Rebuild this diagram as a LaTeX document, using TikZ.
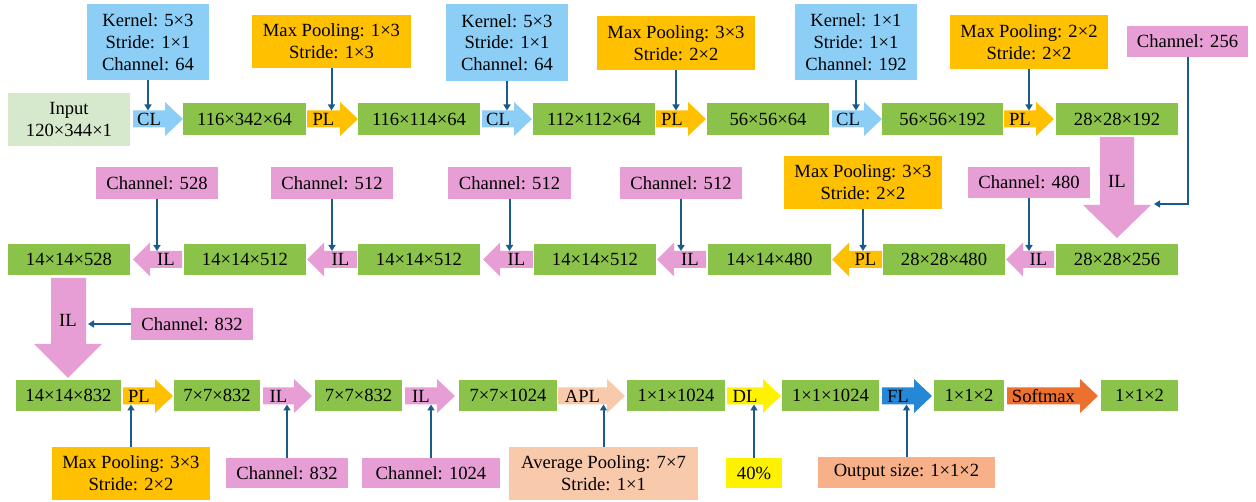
\documentclass[tikz,border=0pt]{standalone}
\usepackage{fontspec}
\setmainfont{Liberation Serif}
\usetikzlibrary{arrows.meta}
\definecolor{cg}{RGB}{139,195,74}
\definecolor{cin}{RGB}{214,233,204}
\definecolor{cbl}{RGB}{140,206,246}
\definecolor{cor}{RGB}{255,192,0}
\definecolor{cpk}{RGB}{231,158,212}
\definecolor{cpe}{RGB}{249,201,172}
\definecolor{cou}{RGB}{248,176,136}
\definecolor{cye}{RGB}{255,242,0}
\definecolor{cfl}{RGB}{36,136,214}
\definecolor{csm}{RGB}{236,112,46}
\definecolor{cln}{RGB}{27,91,140}
\newcommand\myfs{\fontsize{18.6}{21.7}\selectfont}
\newcommand\BX[7]{\node[#1,minimum width={#5-#3},minimum height={#6-#4}] (#2) at ({(#3+#5)/2},{(#4+#6)/2}) {#7};}
\newcommand\RA[6]{%
  \fill[#5] (#2,#4-8.5) -- (#3-18,#4-8.5) -- (#3-18,#4-17) -- (#3,#4) -- (#3-18,#4+17) -- (#3-18,#4+8.5) -- (#2,#4+8.5) -- cycle;
  \node[lbl] (#1) at ({(#2+#3-18)/2},#4) {#6};}
\newcommand\LA[6]{%
  \fill[#5] (#3,#4-8.5) -- (#2+17,#4-8.5) -- (#2+17,#4-17) -- (#2,#4) -- (#2+17,#4+17) -- (#2+17,#4+8.5) -- (#3,#4+8.5) -- cycle;
  \node[lbl] (#1) at ({(#2+17+#3)/2},#4) {#6};}
\begin{document}
\begin{tikzpicture}[x=1pt,y=-1pt,
  bx/.style={inner sep=0pt,outer sep=0pt,align=center,font=\myfs,text=black},
  gbox/.style={bx,fill=cg},
  inbox/.style={bx,fill=cin},
  blbox/.style={bx,fill=cbl},
  orbox/.style={bx,fill=cor},
  pkbox/.style={bx,fill=cpk},
  pebox/.style={bx,fill=cpe},
  oubox/.style={bx,fill=cou},
  yebox/.style={bx,fill=cye},
  lbl/.style={inner sep=0pt,outer sep=0pt,minimum height=17pt,font=\myfs,text=black},
  conn/.style={draw=cln,line width=2pt,-{Triangle[length=6pt,width=7pt]}}]
\useasboundingbox (0,0) rectangle (1256,502);
% ---- row 1
\BX{inbox}{inp}{8}{93}{130}{146}{Input\\120×344×1}
\RA{cl1}{133}{183}{119}{cbl}{CL}
\BX{gbox}{r1a}{183}{103}{306}{135}{116×342×64}
\RA{pl1}{307}{358}{119}{cor}{PL}
\BX{gbox}{r1b}{358}{103}{480}{135}{116×114×64}
\RA{cl2}{482}{532}{119}{cbl}{CL}
\BX{gbox}{r1c}{533}{103}{655}{135}{112×112×64}
\RA{pl2}{656}{706}{119}{cor}{PL}
\BX{gbox}{r1d}{707}{103}{829}{135}{56×56×64}
\RA{cl3}{832}{882}{119}{cbl}{CL}
\BX{gbox}{r1e}{882}{103}{1003}{135}{56×56×192}
\RA{pl3}{1004}{1054}{119}{cor}{PL}
\BX{gbox}{r1f}{1056}{103}{1178}{135}{28×28×192}
% ---- row 2
\BX{gbox}{r2a}{8}{244}{130}{275}{14×14×528}
\LA{il1}{133}{182}{259.5}{cpk}{IL}
\BX{gbox}{r2b}{184}{244}{306}{275}{14×14×512}
\LA{il2}{307}{357}{259.5}{cpk}{IL}
\BX{gbox}{r2c}{358}{244}{480}{275}{14×14×512}
\LA{il3}{483}{533}{259.5}{cpk}{IL}
\BX{gbox}{r2d}{534}{244}{656}{275}{14×14×512}
\LA{il4}{657}{706}{259.5}{cpk}{IL}
\BX{gbox}{r2e}{708}{244}{831}{275}{14×14×480}
\LA{pl4}{832}{882}{259.5}{cor}{PL}
\BX{gbox}{r2f}{883}{244}{1005}{275}{28×28×480}
\LA{il5}{1006}{1054}{259.5}{cpk}{IL}
\BX{gbox}{r2g}{1056}{244}{1178}{275}{28×28×256}
% ---- row 3
\BX{gbox}{r3a}{16}{380}{121}{411}{14×14×832}
\RA{pl5}{123}{173}{396}{cor}{PL}
\BX{gbox}{r3b}{174}{380}{260}{411}{7×7×832}
\RA{il6}{263}{312}{396}{cpk}{IL}
\BX{gbox}{r3c}{315}{380}{402}{411}{7×7×832}
\RA{il7}{405}{455}{396}{cpk}{IL}
\BX{gbox}{r3d}{459}{380}{557}{411}{7×7×1024}
\RA{apl}{558}{625}{396}{cpe}{APL}
\BX{gbox}{r3e}{627}{380}{725}{411}{1×1×1024}
\RA{dl}{727}{781}{396}{cye}{DL}
\BX{gbox}{r3f}{782}{380}{879}{411}{1×1×1024}
\RA{fl}{882}{932}{396}{cfl}{FL}
\BX{gbox}{r3g}{934}{380}{1004}{411}{1×1×2}
\RA{sm}{1007}{1098}{396}{csm}{Softmax}
\BX{gbox}{r3h}{1101}{380}{1178}{411}{1×1×2}
% ---- big arrows
\fill[cpk] (1100,137) -- (1134,137) -- (1134,205) -- (1151,205) -- (1117,238) -- (1083,205) -- (1100,205) -- cycle;
\node[lbl] (ilA) at (1117,181) {IL};
\coordinate (ilAr) at (1154,204);
\fill[cpk] (51,278) -- (86,278) -- (86,344) -- (102,344) -- (68,378) -- (34,344) -- (51,344) -- cycle;
\node[lbl] (ilB) at (68,320) {IL};
\coordinate (ilBr) at (88,324);
% ---- callouts row 1
\BX{blbox}{k1}{87}{4}{209}{80}{Kernel: 5×3\\Stride: 1×1\\Channel: 64}
\BX{orbox}{m1}{252}{15}{411}{68}{Max Pooling: 1×3\\Stride: 1×3}
\BX{blbox}{k2}{446}{4}{568}{81}{Kernel: 5×3\\Stride: 1×1\\Channel: 64}
\BX{orbox}{m2}{597}{16}{755}{70}{Max Pooling: 3×3\\Stride: 2×2}
\BX{blbox}{k3}{795}{4}{917}{80}{Kernel: 1×1\\Stride: 1×1\\Channel: 192}
\BX{orbox}{m3}{950}{15}{1108}{69}{Max Pooling: 2×2\\Stride: 2×2}
\BX{pkbox}{c256}{1127}{26}{1248}{57}{Channel: 256}
% ---- callouts row 2
\BX{pkbox}{c528}{96}{167}{218}{199}{Channel: 528}
\BX{pkbox}{c512a}{271}{167}{393}{199}{Channel: 512}
\BX{pkbox}{c512b}{448}{167}{571}{199}{Channel: 512}
\BX{pkbox}{c512c}{620}{167}{742}{199}{Channel: 512}
\BX{orbox}{m4}{784}{156}{942}{209}{Max Pooling: 3×3\\Stride: 2×2}
\BX{pkbox}{c480}{968}{167}{1090}{198}{Channel: 480}
% ---- callouts row 3
\BX{pkbox}{c832a}{131}{308}{253}{340}{Channel: 832}
\BX{orbox}{m5}{52}{447}{210}{500}{Max Pooling: 3×3\\Stride: 2×2}
\BX{pkbox}{c832b}{226}{458}{348}{488}{Channel: 832}
\BX{pkbox}{c1024}{362}{458}{500}{488}{Channel: 1024}
\BX{pebox}{avg}{509}{447}{698}{500}{Average Pooling: 7×7\\Stride: 1×1}
\BX{yebox}{p40}{726}{458}{782}{488}{40\%}
\BX{oubox}{outs}{818}{457}{995}{488}{Output size: 1×1×2}
% ---- connectors
\foreach \a/\b in {k1/cl1,m1/pl1,k2/cl2,m2/pl2,k3/cl3,m3/pl3,c528/il1,c512a/il2,c512b/il3,c512c/il4,m4/pl4,c480/il5}
  \draw[conn] (\a.south) -- (\a.south |- \b.north);
\foreach \a/\b in {m5/pl5,c832b/il6,c1024/il7,avg/apl,p40/dl,outs/fl}
  \draw[conn] (\a.north) -- (\a.north |- \b.south);
\draw[conn] (c256.south) |- (ilAr);
\draw[conn] (c832a.west) -- (ilBr);
\end{tikzpicture}
\end{document}
